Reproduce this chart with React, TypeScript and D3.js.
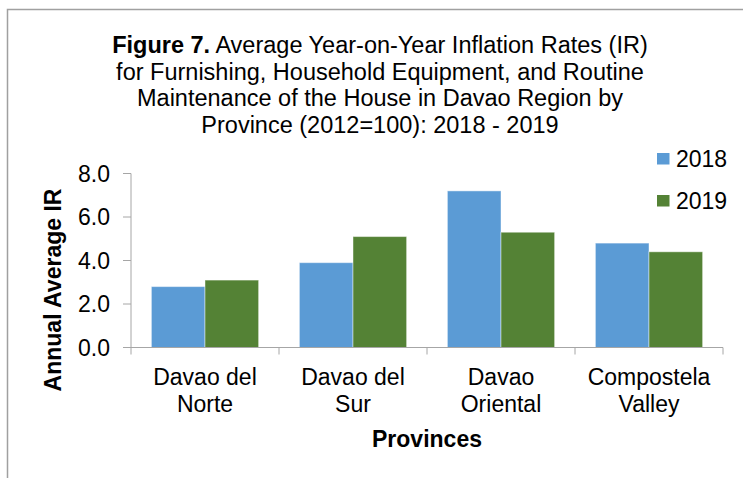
import React from "react";
import * as d3 from "d3";

const categories: string[][] = [
  ["Davao del", "Norte"],
  ["Davao del", "Sur"],
  ["Davao", "Oriental"],
  ["Compostela", "Valley"],
];
const seriesNames = ["2018", "2019"];
const values2018 = [2.8, 3.9, 7.2, 4.8];
const values2019 = [3.1, 5.1, 5.3, 4.4];
const yTicks = [0, 2, 4, 6, 8];
const colors = ["#5B9BD5", "#548235"];
const titleLines = [
  "Average Year-on-Year Inflation Rates (IR)",
  "for Furnishing, Household Equipment, and Routine",
  "Maintenance of the House in Davao Region by",
  "Province (2012=100): 2018 - 2019",
];

const W = 743;
const H = 478;
const FONT = "'Liberation Sans', Arial, sans-serif";

export default function App() {
  const left = 131;
  const right = 723;
  const top = 173.5;
  const bottom = 347.5;
  const keys = categories.map((c) => c.join(" "));
  const x = d3.scaleBand<string>().domain(keys).range([left, right]).paddingInner(0).paddingOuter(0);
  const y = d3.scaleLinear().domain([0, 8]).range([bottom, top]);
  const inner = d3.scaleBand<string>().domain(seriesNames).range([0, x.bandwidth()]).paddingOuter(0.38).paddingInner(0);
  const series = [values2018, values2019];
  const axisColor = "#A6A6A6";
  const cx = (left + right) / 2;

  return (
    <svg width={W} height={H} style={{ position: "absolute", left: 0, top: 0, background: "#fff" }} fontFamily={FONT}>
      <rect x={0} y={0} width={W} height={H} fill="#fff" />
      {/* frame */}
      <path d={`M7.5,${H + 2} V9.5 H${W + 2}`} fill="none" stroke="#A0A0A0" strokeWidth={1.5} />
      {/* title */}
      <text textAnchor="middle" fontSize={23.5} fill="#000">
        {titleLines.map((t, i) => (
          <tspan key={i} x={380} y={53 + i * 26.7}>
            {i === 0 ? (
              <>
                <tspan fontWeight="bold">Figure 7.</tspan> {t}
              </>
            ) : (
              t
            )}
          </tspan>
        ))}
      </text>
      {/* bars */}
      {series.map((vals, si) =>
        vals.map((v, ci) => (
          <rect
            key={`${si}-${ci}`}
            x={(x(keys[ci]) as number) + (inner(seriesNames[si]) as number)}
            y={y(v)}
            width={inner.bandwidth()}
            height={bottom - y(v)}
            fill={colors[si]}
            stroke="#ffffff"
            strokeOpacity={0.45}
            strokeWidth={1}
          />
        ))
      )}
      {/* y axis */}
      <line x1={left} x2={left} y1={top} y2={bottom} stroke={axisColor} strokeWidth={1} />
      {yTicks.map((t) => (
        <g key={t}>
          <line x1={left - 8} x2={left} y1={y(t)} y2={y(t)} stroke={axisColor} strokeWidth={1} />
          <text x={110} y={y(t)} dy="0.36em" textAnchor="end" fontSize={23} fill="#000">
            {t.toFixed(1)}
          </text>
        </g>
      ))}
      {/* x axis */}
      <line x1={left} x2={right} y1={bottom} y2={bottom} stroke={axisColor} strokeWidth={1} />
      {[...keys.map((k) => x(k) as number), right].map((px, i) => (
        <line key={i} x1={px} x2={px} y1={bottom} y2={bottom + 7} stroke={axisColor} strokeWidth={1} />
      ))}
      {categories.map((c, i) => (
        <text key={i} textAnchor="middle" fontSize={23} fill="#000">
          {c.map((line, j) => (
            <tspan key={j} x={(x(keys[i]) as number) + x.bandwidth() / 2} y={385 + j * 27}>
              {line}
            </tspan>
          ))}
        </text>
      ))}
      <text x={cx} y={446.5} textAnchor="middle" fontSize={23} fontWeight="bold" fill="#000">
        Provinces
      </text>
      <text
        transform={`translate(61,290) rotate(-90)`}
        textAnchor="middle"
        fontSize={23}
        fontWeight="bold"
        fill="#000"
      >
        Annual Average IR
      </text>
      {/* legend */}
      {seriesNames.map((s, i) => (
        <g key={s} transform={`translate(657,${153 + i * 42})`}>
          <rect x={0} y={0} width={12.5} height={11.5} fill={colors[i]} />
          <text x={19} y={6} dy="0.36em" fontSize={23} fill="#000">
            {s}
          </text>
        </g>
      ))}
    </svg>
  );
}
